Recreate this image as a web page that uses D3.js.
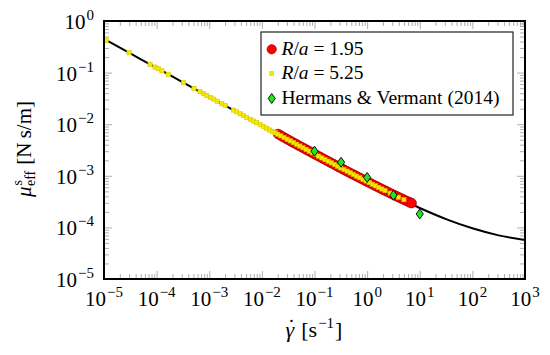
<!DOCTYPE html>
<html><head><meta charset="utf-8">
<script src="https://cdn.jsdelivr.net/npm/d3@7"></script>
<style>
body{margin:0;background:#fff}
svg{display:block}
svg text{font-family:'Liberation Serif','DejaVu Serif','Noto Serif',serif;fill:#000}
</style>
</head><body>
<svg id="c" width="550" height="355"></svg>
<script>
// ---- data ----
const lineX = [1e-5,3.16e-5,1e-4,3.16e-4,1e-3,3.16e-3,1e-2,3.16e-2,1e-1,3.16e-1,1,3.16,10,31.6,100,316,1000];
const lineY = [0.448,0.235,0.123,0.0648,0.0340,0.0178,0.00936,0.00495,0.00262,0.00140,0.000752,0.000415,0.000238,0.000145,0.0000960,0.0000700,0.0000570];

const redX = [0.0204,0.0229,0.0257,0.0288,0.0324,0.0363,0.0407,0.0457,0.0513,0.0575,0.0646,0.0724,0.0813,0.0912,0.102,0.115,0.129,0.145,0.162,0.182,0.204,0.229,0.257,0.288,0.324,0.363,0.407,0.457,0.513,0.575,0.646,0.724,0.813,0.912,1.02,1.15,1.29,1.45,1.62,1.82,2.04,2.29,2.57,2.88,3.24,3.63,4.07,4.57,5.13,5.75,6.46,7.0];
const redY = [0.00645,0.00600,0.00562,0.00526,0.00493,0.00462,0.00433,0.00406,0.00381,0.00358,0.00336,0.00315,0.00296,0.00277,0.00260,0.00245,0.00230,0.00216,0.00203,0.00191,0.00179,0.00168,0.00158,0.00148,0.00140,0.00131,0.00123,0.00116,0.00109,0.00103,0.000968,0.000912,0.000858,0.000808,0.000762,0.000718,0.000676,0.000637,0.000601,0.000567,0.000535,0.000505,0.000476,0.000450,0.000425,0.000402,0.000380,0.000360,0.000340,0.000322,0.000305,0.000296];

const yellowX = [1.10e-5,2.99e-5,7.50e-5,9.33e-5,1.07e-4,1.26e-4,1.66e-4,3.24e-4,5.13e-4,6.68e-4,7.76e-4,8.91e-4,1.05e-3,1.20e-3,1.41e-3,1.74e-3,2.00e-3,2.88e-3,3.31e-3,3.89e-3,4.47e-3,5.13e-3,6.03e-3,6.92e-3,7.94e-3,9.33e-3,1.07e-2,1.23e-2,1.41e-2,1.58e-2,1.78e-2,2.00e-2,2.29e-2,2.63e-2,3.02e-2,3.47e-2,3.98e-2,4.57e-2,5.25e-2,6.03e-2,6.92e-2,7.94e-2,9.12e-2,0.105,0.120,0.138,0.158,0.182,0.209,0.240,0.275,0.316,0.363,0.417,0.479,0.550,0.631,0.724,0.832,0.955,1.10,1.26,1.45,1.66,1.91,2.19,2.75,3.94,5.01];
const yellowY = [0.426,0.243,0.145,0.128,0.119,0.108,0.0929,0.0639,0.0494,0.0426,0.0392,0.0362,0.0331,0.0307,0.0280,0.0249,0.0231,0.0188,0.0174,0.0159,0.0147,0.0136,0.0124,0.0115,0.0107,0.00975,0.00900,0.00834,0.00772,0.00725,0.00682,0.00640,0.00595,0.00552,0.00512,0.00475,0.00440,0.00408,0.00378,0.00350,0.00325,0.00301,0.00279,0.00260,0.00240,0.00222,0.00206,0.00192,0.00178,0.00165,0.00153,0.00142,0.00132,0.00123,0.00114,0.00106,0.000985,0.000916,0.000852,0.000793,0.000738,0.000686,0.000638,0.000595,0.000554,0.000516,0.000460,0.000385,0.000345];

const greenX = [0.1,0.32,1.0,3.16,10];
const greenY = [0.0030,0.00183,0.00093,0.00042,0.000182];

const xTickExp = [-5,-4,-3,-2,-1,0,1,2,3];
const yTickExp = [-5,-4,-3,-2,-1,0];

const legendLabels = ["R/a = 1.95","R/a = 5.25","Hermans & Vermant (2014)"];

// ---- layout ----
const L=104, R=525, T=21, B=279;
const svg = d3.select("#c");
const x = d3.scaleLog().domain([1e-5,1e3]).range([L,R]);
const y = d3.scaleLog().domain([1e-5,1]).range([B,T]);

const zip = (a,b)=>a.slice(0,Math.min(a.length,b.length)).map((v,i)=>[v,b[i]]);

// ticks
const xMaj = xTickExp.map(e=>Math.pow(10,e));
const yMaj = yTickExp.map(e=>Math.pow(10,e));
const minors = (exps)=>{const r=[];for(let i=0;i<exps.length-1;i++){for(let k=2;k<10;k++)r.push(k*Math.pow(10,exps[i]));}return r;};
const xMin = minors(xTickExp), yMin = minors(yTickExp);

const tickStyle = g=>{g.select(".domain").remove();g.selectAll("line").attr("stroke","#9a9a9a").attr("stroke-width",0.8);};
const MJ=8, MN=5;
svg.append("g").attr("transform",`translate(0,${B})`).call(d3.axisBottom(x).tickValues(xMaj).tickSize(-MJ).tickFormat("")).call(tickStyle);
svg.append("g").attr("transform",`translate(0,${B})`).call(d3.axisBottom(x).tickValues(xMin).tickSize(-MN).tickFormat("")).call(tickStyle);
svg.append("g").attr("transform",`translate(0,${T})`).call(d3.axisTop(x).tickValues(xMaj).tickSize(-MJ).tickFormat("")).call(tickStyle);
svg.append("g").attr("transform",`translate(0,${T})`).call(d3.axisTop(x).tickValues(xMin).tickSize(-MN).tickFormat("")).call(tickStyle);
svg.append("g").attr("transform",`translate(${L},0)`).call(d3.axisLeft(y).tickValues(yMaj).tickSize(-MJ).tickFormat("")).call(tickStyle);
svg.append("g").attr("transform",`translate(${L},0)`).call(d3.axisLeft(y).tickValues(yMin).tickSize(-MN).tickFormat("")).call(tickStyle);
svg.append("g").attr("transform",`translate(${R},0)`).call(d3.axisRight(y).tickValues(yMaj).tickSize(-MJ).tickFormat("")).call(tickStyle);
svg.append("g").attr("transform",`translate(${R},0)`).call(d3.axisRight(y).tickValues(yMin).tickSize(-MN).tickFormat("")).call(tickStyle);

// tick labels
const expStr = e => (e<0?"\u2212":"")+Math.abs(e);
xTickExp.forEach(e=>{
  const t = svg.append("text").attr("x",x(Math.pow(10,e))).attr("y",B+27).attr("text-anchor","middle").attr("font-size",21);
  t.append("tspan").text("10");
  t.append("tspan").attr("dy",-9).attr("font-size",15).attr("dx",1).text(expStr(e));
});
yTickExp.forEach(e=>{
  const t = svg.append("text").attr("x",94).attr("y",y(Math.pow(10,e))+8).attr("text-anchor","end").attr("font-size",21);
  t.append("tspan").text("10");
  t.append("tspan").attr("dy",-9).attr("font-size",15).attr("dx",1).text(expStr(e));
});

// axis titles
{
  const t = svg.append("text").attr("transform","translate(31,149) rotate(-90)").attr("text-anchor","middle").attr("font-size",21);
  t.append("tspan").attr("font-style","italic").text("\u03BC");
  t.append("tspan").attr("font-size",14).attr("dy",-9).attr("dx",1).text("s");
  t.append("tspan").attr("font-size",14).attr("dy",13).attr("dx",-6).text("eff");
  t.append("tspan").attr("dy",-4).attr("dx",6).text("[N\u2009s/m]");
}
{
  const t = svg.append("text").attr("x",314).attr("y",337).attr("text-anchor","middle").attr("font-size",22);
  t.append("tspan").attr("font-style","italic").text("\u03B3");
  t.append("tspan").attr("dx",7).text("[s");
  t.append("tspan").attr("font-size",15).attr("dy",-9).attr("dx",1).text("\u22121");
  t.append("tspan").attr("dy",9).attr("dx",1).text("]");
  const ext = t.node().getExtentOfChar(0);
  svg.append("text").attr("x",ext.x+ext.width/2+1.5).attr("y",337-3).attr("text-anchor","middle").attr("font-size",22).text("\u02D9");
}

// data layers
const line = d3.line().x(d=>x(d[0])).y(d=>y(d[1])).curve(d3.curveMonotoneX);
svg.append("path").datum(zip(lineX,lineY)).attr("d",line).attr("fill","none").attr("stroke","#000").attr("stroke-width",2);

svg.append("g").selectAll("circle").data(zip(redX,redY)).join("circle")
  .attr("cx",d=>x(d[0])).attr("cy",d=>y(d[1])).attr("r",4.8)
  .attr("fill","#ff0000").attr("stroke","#b00000").attr("stroke-width",0.8);

const ys = 4.2;
svg.append("g").selectAll("rect").data(zip(yellowX,yellowY)).join("rect")
  .attr("x",d=>x(d[0])-ys/2).attr("y",d=>y(d[1])-ys/2).attr("width",ys).attr("height",ys)
  .attr("fill","#f7ea00").attr("stroke","#d6c600").attr("stroke-width",0.6);

const diamond = (cx,cy)=>`M${cx},${cy-5}L${cx+3.6},${cy}L${cx},${cy+5}L${cx-3.6},${cy}Z`;
svg.append("g").selectAll("path").data(zip(greenX,greenY)).join("path")
  .attr("d",d=>diamond(x(d[0]),y(d[1])))
  .attr("fill","#22e622").attr("stroke","#000").attr("stroke-width",0.9);

// frame
svg.append("rect").attr("x",L).attr("y",T).attr("width",R-L).attr("height",B-T)
  .attr("fill","none").attr("stroke","#000").attr("stroke-width",2);

// legend
const lg = svg.append("g");
lg.append("rect").attr("x",261).attr("y",32).attr("width",252).attr("height",83)
  .attr("fill","#fff").attr("stroke","#222").attr("stroke-width",1.2);
const rowY = [49.3,73.5,98.5];
lg.append("circle").attr("cx",271.7).attr("cy",rowY[0]).attr("r",4.6).attr("fill","#ff0000").attr("stroke","#b00000").attr("stroke-width",0.8);
lg.append("rect").attr("x",271.7-1.9).attr("y",rowY[1]-1.9).attr("width",3.8).attr("height",3.8).attr("fill","#f7ea00").attr("stroke","#d6c600").attr("stroke-width",0.6);
lg.append("path").attr("d",diamond(271.7,rowY[2])).attr("fill","#22e622").attr("stroke","#000").attr("stroke-width",0.9);
legendLabels.forEach((s,i)=>{
  const t = lg.append("text").attr("x",281.5).attr("y",rowY[i]+5.5).attr("font-size",19.5);
  if(i<2){
    const parts = s.split(" = ");
    t.append("tspan").attr("font-style","italic").text("R");
    t.append("tspan").text("/");
    t.append("tspan").attr("font-style","italic").text("a");
    t.append("tspan").text(" = "+parts[1]);
  } else {
    t.text(s);
  }
});
</script>
</body></html>
